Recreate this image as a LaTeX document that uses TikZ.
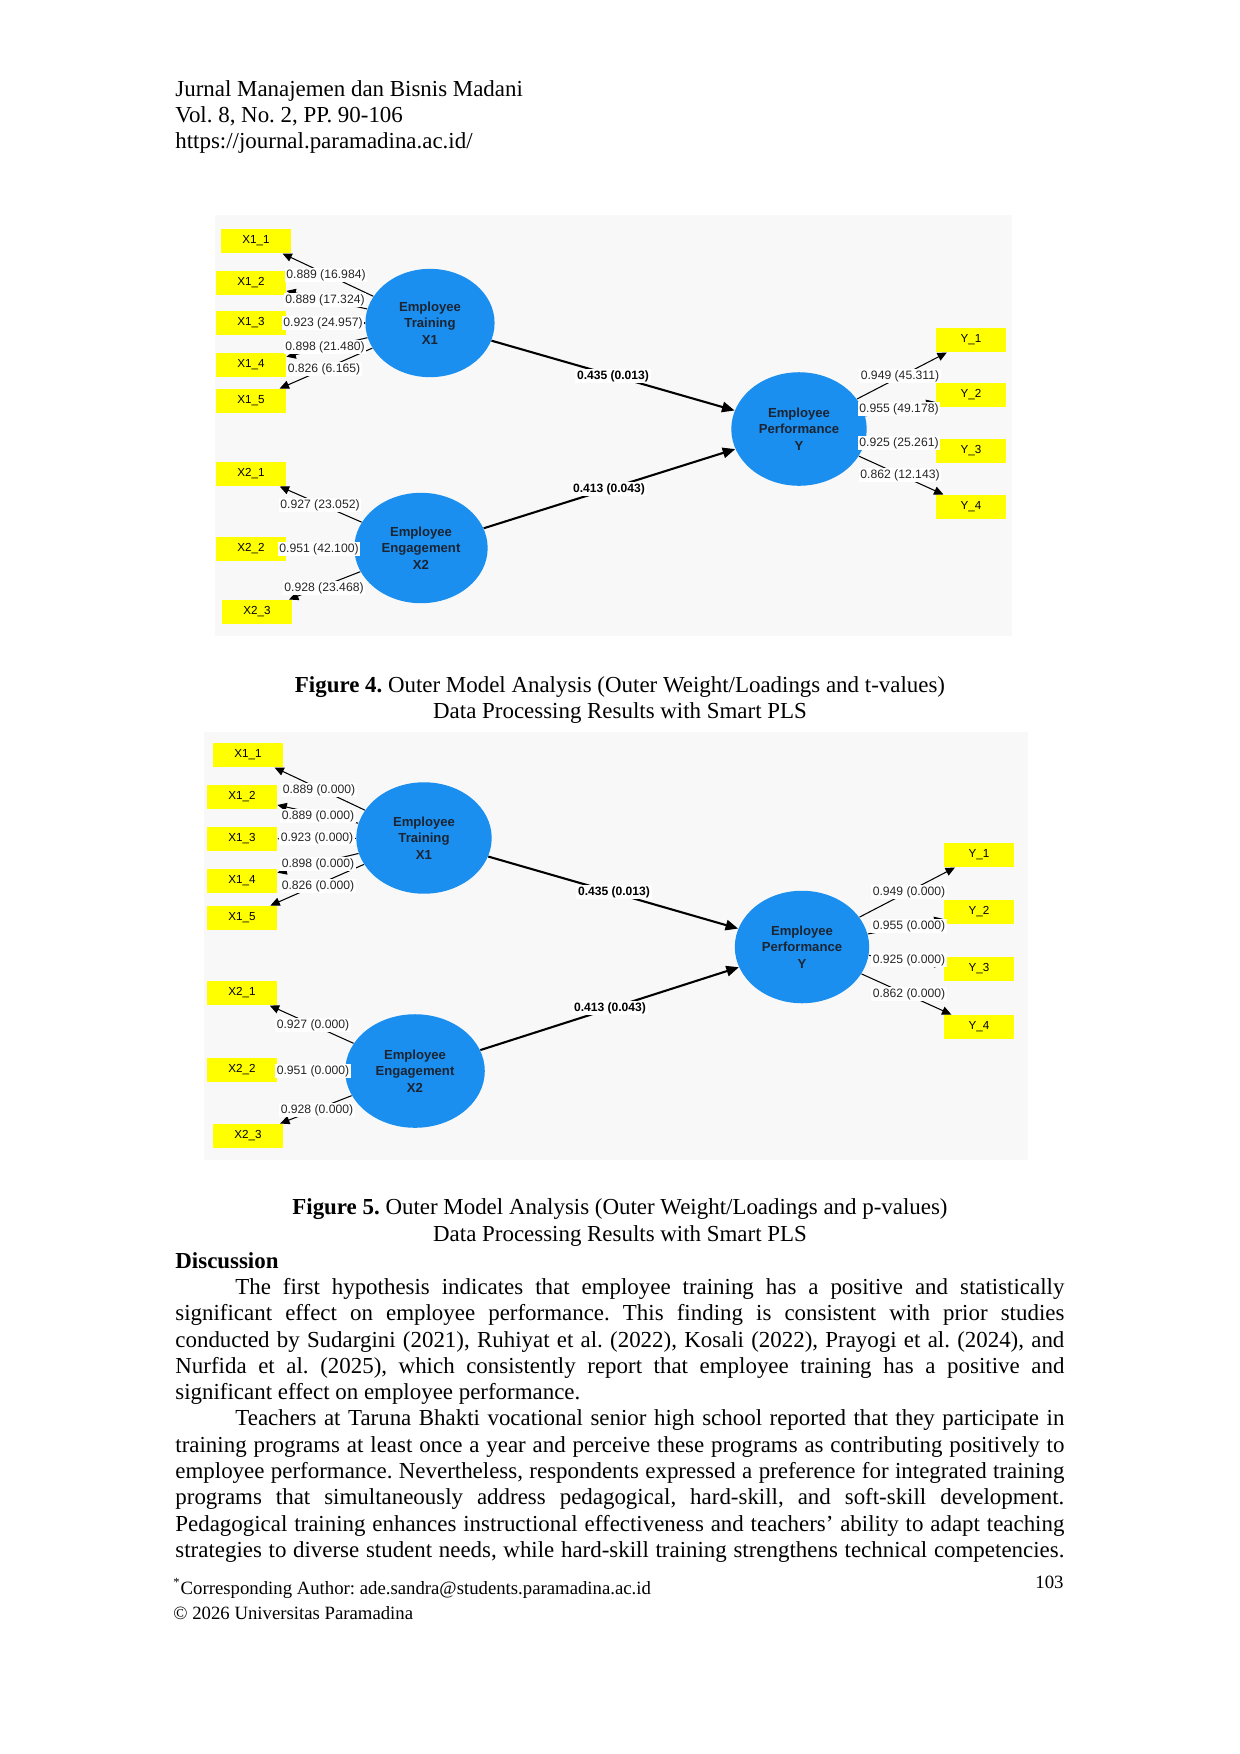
\documentclass[tikz,border=0pt]{standalone}
\usepackage{fontspec}
\setmainfont{Liberation Serif}
\newfontfamily\arialf{Liberation Sans}
\usetikzlibrary{shapes.geometric,arrows.meta}
\definecolor{bgc}{HTML}{F8F8F8}
\definecolor{ylw}{HTML}{FFFF00}
\definecolor{lvblue}{HTML}{1A8FEF}
\definecolor{lvtext}{HTML}{1B2433}
\newcommand\jline[1]{\makebox[426.7pt][s]{#1}}
\newcommand\jlinei[1]{\makebox[397.9pt][s]{#1}}
\frenchspacing
\tikzset{
  panel/.style={fill=bgc,draw=none},
  ybox/.style={fill=ylw,draw=none,minimum width=33.6pt,minimum height=11.6pt,inner sep=0pt,
    font=\arialf\fontsize{5.6}{7}\selectfont},
  lv/.style={ellipse,fill=lvblue,draw=none,inner sep=0pt,align=center,text=lvtext,
    font=\arialf\bfseries\fontsize{6.3}{7.9}\selectfont},
  load/.style={-{Triangle[length=4.5pt,width=4pt]},line width=0.5pt,black},
  inner/.style={-{Triangle[length=6pt,width=5pt]},line width=1pt,black},
  lbl/.style={fill=white,inner sep=0.8pt,text=black!85,font=\arialf\fontsize{5.85}{7}\selectfont},
  plbl/.style={fill=white,inner sep=0.8pt,text=black,font=\arialf\bfseries\fontsize{5.8}{7}\selectfont},
  body/.style={anchor=base west,inner sep=0pt,font=\fontsize{11}{12.6}\selectfont\frenchspacing},
  captext/.style={anchor=base,inner sep=0pt,font=\fontsize{11}{12.6}\selectfont},
  foot/.style={anchor=base west,inner sep=0pt,font=\fontsize{9}{11}\selectfont},
}
\begin{document}
\begin{tikzpicture}[x=0.48pt,y=-0.48pt]
\useasboundingbox[fill=white] (0,0) rectangle (1240,1754);

% ---------- header ----------
\node[body] (h1) at (175,96) {Jurnal Manajemen dan Bisnis Madani};
\node[body] (h2) at (175,122) {Vol. 8, No. 2, PP. 90-106};
\node[body] (h3) at (175,148) {https://journal.paramadina.ac.id/};

% ================= FIGURE 4 =================
\path[panel] (215,215) rectangle (1012,636);

\node[ybox] (a11) at (256,241) {X1\_1};
\node[ybox] (a12) at (251,283) {X1\_2};
\node[ybox] (a13) at (251,323) {X1\_3};
\node[ybox] (a14) at (251,365) {X1\_4};
\node[ybox] (a15) at (251,401) {X1\_5};
\node[ybox] (a21) at (251,474) {X2\_1};
\node[ybox] (a22) at (251,549) {X2\_2};
\node[ybox] (a23) at (257,612) {X2\_3};
\node[ybox] (ay1) at (971,340) {Y\_1};
\node[ybox] (ay2) at (971,395) {Y\_2};
\node[ybox] (ay3) at (971,451) {Y\_3};
\node[ybox] (ay4) at (971,507) {Y\_4};

\node[lv,minimum width=62pt,minimum height=52pt] (at) at (430,323) {Employee\\Training\\X1};
\node[lv,minimum width=64pt,minimum height=53pt] (ae) at (421,548) {Employee\\Engagement\\X2};
\node[lv,minimum width=65pt,minimum height=54.5pt] (ap) at (799,429) {Employee\\Performance\\Y};

\draw[load] (at) -- (a11);
\draw[load] (at) -- (a12);
\draw[load] (at) -- (a13);
\draw[load] (at) -- (a14);
\draw[load] (at) -- (a15);
\draw[load] (ae) -- (a21);
\draw[load] (ae) -- (a22);
\draw[load] (ae) -- (a23);
\draw[load] (ap) -- (ay1);
\draw[load] (ap) -- (ay2);
\draw[load] (ap) -- (ay3);
\draw[load] (ap) -- (ay4);
\draw[inner] (at) -- (ap);
\draw[inner] (ae) -- (ap);

\node[lbl] (al1) at (326,275) {0.889 (16.984)};
\node[lbl] (al2) at (325,300) {0.889 (17.324)};
\node[lbl] (al3) at (323,323) {0.923 (24.957)};
\node[lbl] (al4) at (325,347) {0.898 (21.480)};
\node[lbl] (al5) at (324,369) {0.826 (6.165)};
\node[lbl] (al6) at (320,505) {0.927 (23.052)};
\node[lbl] (al7) at (319,549) {0.951 (42.100)};
\node[lbl] (al8) at (324,588) {0.928 (23.468)};
\node[lbl] (ar1) at (900,376) {0.949 (45.311)};
\node[lbl] (ar2) at (899,409) {0.955 (49.178)};
\node[lbl] (ar3) at (899,443) {0.925 (25.261)};
\node[lbl] (ar4) at (900,475) {0.862 (12.143)};
\node[plbl] (ap1) at (613,376) {0.435 (0.013)};
\node[plbl] (ap2) at (609,489) {0.413 (0.043)};

\node[captext] (c4a) at (620,692) {\textbf{Figure 4.} Outer Model Analysis (Outer Weight/Loadings and t-values)};
\node[captext] (c4b) at (620,718) {Data Processing Results with Smart PLS};

% ================= FIGURE 5 =================
\path[panel] (204,732) rectangle (1028,1160);

\node[ybox] (b11) at (248,755) {X1\_1};
\node[ybox] (b12) at (242,797) {X1\_2};
\node[ybox] (b13) at (242,839) {X1\_3};
\node[ybox] (b14) at (242,881) {X1\_4};
\node[ybox] (b15) at (242,918) {X1\_5};
\node[ybox] (b21) at (242,993) {X2\_1};
\node[ybox] (b22) at (242,1070) {X2\_2};
\node[ybox] (b23) at (248,1136) {X2\_3};
\node[ybox] (by1) at (979,855) {Y\_1};
\node[ybox] (by2) at (979,912) {Y\_2};
\node[ybox] (by3) at (979,969) {Y\_3};
\node[ybox] (by4) at (979,1027) {Y\_4};

\node[lv,minimum width=65pt,minimum height=53.5pt] (bt) at (424,838) {Employee\\Training\\X1};
\node[lv,minimum width=67pt,minimum height=54.5pt] (be) at (415,1071) {Employee\\Engagement\\X2};
\node[lv,minimum width=64.5pt,minimum height=54pt] (bp) at (802,947) {Employee\\Performance\\Y};

\draw[load] (bt) -- (b11);
\draw[load] (bt) -- (b12);
\draw[load] (bt) -- (b13);
\draw[load] (bt) -- (b14);
\draw[load] (bt) -- (b15);
\draw[load] (be) -- (b21);
\draw[load] (be) -- (b22);
\draw[load] (be) -- (b23);
\draw[load] (bp) -- (by1);
\draw[load] (bp) -- (by2);
\draw[load] (bp) -- (by3);
\draw[load] (bp) -- (by4);
\draw[inner] (bt) -- (bp);
\draw[inner] (be) -- (bp);

\node[lbl] (bl1) at (319,790) {0.889 (0.000)};
\node[lbl] (bl2) at (318,816) {0.889 (0.000)};
\node[lbl] (bl3) at (317,838) {0.923 (0.000)};
\node[lbl] (bl4) at (318,864) {0.898 (0.000)};
\node[lbl] (bl5) at (318,886) {0.826 (0.000)};
\node[lbl] (bl6) at (313,1025) {0.927 (0.000)};
\node[lbl] (bl7) at (313,1071) {0.951 (0.000)};
\node[lbl] (bl8) at (317,1110) {0.928 (0.000)};
\node[lbl] (br1) at (909,892) {0.949 (0.000)};
\node[lbl] (br2) at (909,926) {0.955 (0.000)};
\node[lbl] (br3) at (909,960) {0.925 (0.000)};
\node[lbl] (br4) at (909,994) {0.862 (0.000)};
\node[plbl] (bp1) at (614,892) {0.435 (0.013)};
\node[plbl] (bp2) at (610,1008) {0.413 (0.043)};

\node[captext] (c5a) at (620,1214) {\textbf{Figure 5.} Outer Model Analysis (Outer Weight/Loadings and p-values)};
\node[captext] (c5b) at (620,1241) {Data Processing Results with Smart PLS};

% ---------- discussion ----------
\node[body] (d0) at (175,1268) {\textbf{Discussion}};
\node[body] (d1) at (235,1294) {\jlinei{The first hypothesis indicates that employee training has a positive and statistically}};
\node[body] (d2) at (175,1320) {\jline{significant effect on employee performance. This finding is consistent with prior studies}};
\node[body] (d3) at (175,1347) {\jline{conducted by Sudargini (2021), Ruhiyat et al. (2022), Kosali (2022), Prayogi et al. (2024), and}};
\node[body] (d4) at (175,1373) {\jline{Nurfida et al. (2025), which consistently report that employee training has a positive and}};
\node[body] (d5) at (175,1399) {significant effect on employee performance.};
\node[body] (d6) at (235,1425) {\jlinei{Teachers at Taruna Bhakti vocational senior high school reported that they participate in}};
\node[body] (d7) at (175,1452) {\jline{training programs at least once a year and perceive these programs as contributing positively to}};
\node[body] (d8) at (175,1478) {\jline{employee performance. Nevertheless, respondents expressed a preference for integrated training}};
\node[body] (d9) at (175,1504) {\jline{programs that simultaneously address pedagogical, hard-skill, and soft-skill development.}};
\node[body] (d10) at (175,1531) {\jline{Pedagogical training enhances instructional effectiveness and teachers’ ability to adapt teaching}};
\node[body] (d11) at (175,1557) {\jline{strategies to diverse student needs, while hard-skill training strengthens technical competencies.}};

% ---------- footer ----------
\node[foot] (f1) at (173,1594) {\textsuperscript{*}Corresponding Author: ade.sandra@students.paramadina.ac.id};
\node[foot] (f2) at (173,1619) {© 2026 Universitas Paramadina};
\node[anchor=base east,inner sep=0pt,font=\fontsize{9}{11}\selectfont] (pg) at (1064,1588) {103};
\end{tikzpicture}
\end{document}
